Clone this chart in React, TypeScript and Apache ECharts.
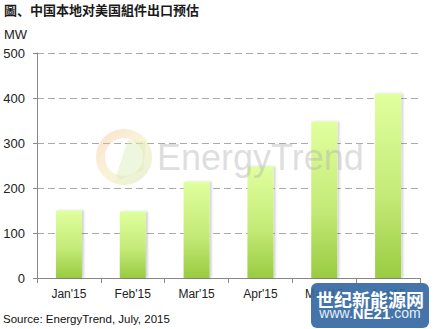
import React, { useEffect, useRef } from "react";
import * as echarts from "echarts";

const categories = ["Jan'15", "Feb'15", "Mar'15", "Apr'15", "May'15", "Jun'15"];
const values = [150, 148, 214, 248, 348, 410];
const yTicks = [0, 100, 200, 300, 400, 500];

export default function App() {
  const ref = useRef<HTMLDivElement>(null);
  useEffect(() => {
    if (!ref.current) return;
    const chart = echarts.init(ref.current, undefined, { renderer: "svg" });
    chart.setOption({
      animation: false,
      backgroundColor: "#ffffff",
      grid: { left: 37, right: 15, top: 53, bottom: 51, containLabel: false },
      xAxis: {
        type: "category",
        data: categories,
        axisLine: { lineStyle: { color: "#888888", width: 1 } },
        axisTick: { show: true, length: 5, lineStyle: { color: "#888888" } },
        axisLabel: { color: "#222222", fontSize: 12, fontFamily: "Liberation Sans", margin: 10 },
      },
      yAxis: {
        type: "value",
        min: yTicks[0],
        max: yTicks[yTicks.length - 1],
        interval: 100,
        axisLine: { show: true, lineStyle: { color: "#888888", width: 1 } },
        axisTick: { show: true, length: 4, lineStyle: { color: "#888888" } },
        axisLabel: { color: "#222222", fontSize: 13, fontFamily: "Liberation Sans", margin: 12 },
        splitLine: { show: true, lineStyle: { color: "#aaaaaa", type: [7, 4], width: 1 } },
      },
      series: [
        {
          type: "bar",
          data: values,
          barWidth: 26,
          z: 2,
          itemStyle: {
            color: new echarts.graphic.LinearGradient(0, 0, 0, 1, [
              { offset: 0, color: "#e0ff9e" },
              { offset: 0.55, color: "#c4eb78" },
              { offset: 1, color: "#9acb42" },
            ]),
            shadowColor: "rgba(0,0,0,0.18)",
            shadowBlur: 2,
            shadowOffsetX: 2,
            shadowOffsetY: 0,
          },
        },
      ],
      graphic: [
        {
          type: "text",
          left: 4,
          top: 3,
          style: {
            text: "圖、中国本地对美国組件出口预估",
            fill: "#1a1a1a",
            font: "bold 13px 'Noto Sans CJK SC'",
          },
        },
        {
          type: "text",
          left: 4,
          top: 28,
          style: { text: "MW", fill: "#222222", font: "13px 'Liberation Sans'" },
        },
        {
          type: "text",
          left: 3,
          top: 313,
          style: { text: "Source: EnergyTrend, July, 2015", fill: "#111111", font: "11.5px 'Liberation Sans'" },
        },
        {
          type: "ring",
          z: 10,
          shape: { cx: 124, cy: 157, r: 28, r0: 19 },
          style: {
            fill: new echarts.graphic.LinearGradient(0, 0, 1, 1, [
              { offset: 0, color: "#f5a878" },
              { offset: 0.5, color: "#f2dc8a" },
              { offset: 1, color: "#b6d98a" },
            ]),
            opacity: 0.35,
          },
        },
        {
          type: "polygon",
          z: 10,
          shape: { points: [[128, 140], [146, 142], [143, 170], [120, 180], [116, 176]] },
          style: { fill: "#d9ebb5", opacity: 0.45 },
        },
        {
          type: "text",
          z: 10,
          left: 157,
          top: 139,
          style: {
            text: "EnergyTrend",
            fill: "rgba(175,175,175,0.42)",
            font: "36px 'Liberation Sans'",
          },
        },
        {
          type: "rect",
          z: 20,
          shape: { x: 311, y: 283, width: 118, height: 45, r: 6 },
          style: { fill: "rgba(52,104,162,0.92)" },
        },
        {
          type: "text",
          z: 21,
          style: {
            x: 370,
            y: 299,
            text: "世纪新能源网",
            fill: "#ffffff",
            font: "bold 18px 'Noto Sans CJK SC'",
            align: "center",
            verticalAlign: "middle",
          },
        },
        {
          type: "text",
          z: 21,
          style: {
            x: 370,
            y: 313,
            text: "{a|www.}{b|NE21}{a|.com}",
            align: "center",
            verticalAlign: "middle",
            rich: {
              a: { fill: "#e6eef7", fontSize: 14, fontFamily: "Liberation Sans" },
              b: { fill: "#ffffff", fontSize: 15, fontWeight: "bold", fontFamily: "Liberation Sans" },
            },
          },
        },
      ],
    });
    return () => chart.dispose();
  }, []);
  return <div ref={ref} style={{ width: 435, height: 329, position: "absolute", left: 0, top: 0 }} />;
}
